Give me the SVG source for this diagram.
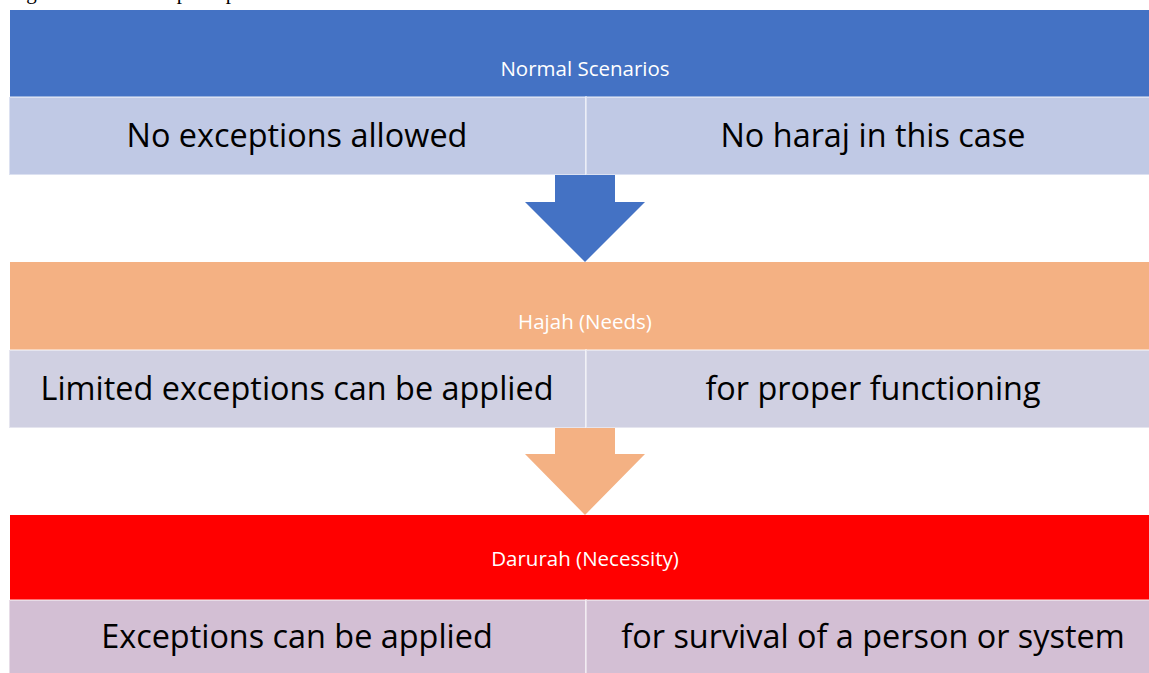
<svg xmlns="http://www.w3.org/2000/svg" width="1149" height="673" viewBox="0 0 1149 673">
<style>
.hdr{font-family:"Open Sans","Liberation Sans",sans-serif;font-size:20.5px;fill:#fff;text-anchor:middle}
.cell{stroke:#fff;stroke-opacity:0.45;stroke-width:2}
.txt{font-family:"Open Sans","Liberation Sans",sans-serif;font-size:32.4px;fill:#000;text-anchor:middle}
</style>
<rect width="1149" height="673" fill="#fff"/>
<text x="10" y="-1" font-family="Liberation Serif,serif" font-size="21" fill="#000">regard for the main principles and values.</text>
<g id="normal">
<rect x="10" y="10" width="1145" height="87" fill="#4472C4"/>
<text class="hdr" x="585" y="76">Normal Scenarios</text>
<rect class="cell" x="9" y="97" width="577" height="78" fill="#C0C9E5"/>
<rect class="cell" x="586" y="97" width="570" height="78" fill="#C0C9E5"/>
<text class="txt" x="297" y="147">No exceptions allowed</text>
<text class="txt" x="873" y="147">No haraj in this case</text>
</g>
<g id="hajah">
<rect x="10" y="262" width="1145" height="88" fill="#F4B183"/>
<text class="hdr" x="585" y="329">Hajah (Needs)</text>
<rect class="cell" x="9" y="350" width="577" height="78" fill="#D0D0E2"/>
<rect class="cell" x="586" y="350" width="570" height="78" fill="#D0D0E2"/>
<text class="txt" x="297" y="400">Limited exceptions can be applied</text>
<text class="txt" x="873" y="400">for proper functioning</text>
</g>
<g id="darurah">
<rect x="10" y="515" width="1145" height="85" fill="#FF0000"/>
<text class="hdr" x="585" y="566">Darurah (Necessity)</text>
<rect class="cell" x="9" y="600" width="577" height="80" fill="#D3BFD4"/>
<rect class="cell" x="586" y="600" width="570" height="80" fill="#D3BFD4"/>
<text class="txt" x="297" y="648">Exceptions can be applied</text>
<text class="txt" x="873" y="648">for survival of a person or system</text>
</g>
<g id="connectors">
<polygon points="555,175 615,175 615,202 645,202 585,262 525,202 555,202" fill="#4472C4"/>
<polygon points="555,428 615,428 615,454 645,454 585,515 525,454 555,454" fill="#F4B183"/>
</g>
</svg>
